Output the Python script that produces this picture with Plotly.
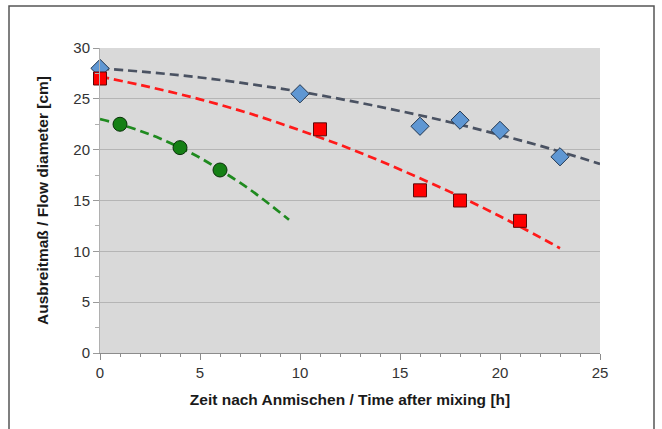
import plotly.graph_objects as go

# Measured points
blue_x = [0, 10, 16, 18, 20, 23]
blue_y = [28.0, 25.5, 22.3, 22.9, 21.9, 19.3]
red_x = [0, 11, 16, 18, 21]
red_y = [27.0, 22.0, 16.0, 15.0, 13.0]
green_x = [1, 4, 6]
green_y = [22.5, 20.2, 18.0]

# Trend lines
blue_trend_x = [0, 2.5, 5, 7.5, 10, 12.5, 15, 17.5, 20, 22.5, 25]
blue_trend_y = [28.0, 27.6, 27.1, 26.45, 25.7, 24.8, 23.8, 22.7, 21.45, 20.1, 18.6]
red_trend_x = [0, 2.5, 5, 7.5, 10, 12.5, 15, 17.5, 20, 22.5, 23]
red_trend_y = [27.2, 26.15, 24.95, 23.55, 21.9, 20.1, 18.05, 15.85, 13.45, 10.85, 10.3]
green_trend_x = [0, 1, 2, 3, 4, 5, 6, 7, 8, 9.45]
green_trend_y = [23.0, 22.5, 21.85, 21.1, 20.2, 19.2, 18.0, 16.75, 15.35, 13.1]

x_ticks = [0, 5, 10, 15, 20, 25]
y_ticks = [0, 5, 10, 15, 20, 25, 30]

DASH = "9px,5px"

fig = go.Figure()
fig.add_trace(go.Scatter(x=blue_trend_x, y=blue_trend_y, mode="lines", line=dict(color="#4a5262", width=2.7, dash=DASH, shape="spline"), hoverinfo="skip"))
fig.add_trace(go.Scatter(x=red_trend_x, y=red_trend_y, mode="lines", line=dict(color="#ff1a1a", width=2.7, dash=DASH, shape="spline"), hoverinfo="skip"))
fig.add_trace(go.Scatter(x=green_trend_x, y=green_trend_y, mode="lines", line=dict(color="#1f8a1f", width=2.7, dash=DASH, shape="spline"), hoverinfo="skip"))
fig.add_trace(go.Scatter(x=blue_x, y=blue_y, mode="markers", cliponaxis=False, marker=dict(symbol="diamond", size=14, color="#5f97d3", line=dict(color="#22364f", width=1))))
fig.add_trace(go.Scatter(x=red_x, y=red_y, mode="markers", cliponaxis=False, marker=dict(symbol="square", size=13, color="#ff0000", line=dict(color="#5a0a0a", width=1))))
fig.add_trace(go.Scatter(x=green_x, y=green_y, mode="markers", cliponaxis=False, marker=dict(symbol="circle", size=14, color="#158015", line=dict(color="#0a300a", width=1))))

fig.update_layout(
    width=662, height=429,
    margin=dict(l=100, r=62, t=48, b=76),
    paper_bgcolor="white", plot_bgcolor="#d9d9d9",
    showlegend=False,
    font=dict(family="Liberation Sans, Arial, sans-serif", color="#333333", size=15),
    xaxis=dict(range=[0, 25], tickvals=x_ticks, showgrid=False, zeroline=False,
               showline=True, linecolor="#8c8c8c", linewidth=1,
               ticks="outside", ticklen=6, tickcolor="#8c8c8c",
               minor=dict(dtick=1, ticks="outside", ticklen=3, tickcolor="#8c8c8c"),
               title=dict(text="<b>Zeit nach Anmischen / Time after mixing [h]</b>", font=dict(size=15.5, color="#1a1a1a"), standoff=14)),
    yaxis=dict(range=[0, 30], tickvals=y_ticks, showgrid=True, gridcolor="#b5b5b5", gridwidth=1,
               zeroline=False, showline=True, linecolor="#b0b0b0", linewidth=1,
               ticks="outside", ticklen=6, tickcolor="#9a9a9a",
               minor=dict(tickvals=[2.5, 7.5, 12.5, 17.5, 22.5, 27.5], ticks="outside", ticklen=4, tickcolor="#b0b0b0", showgrid=False),
               title=dict(text="<b>Ausbreitmaß / Flow diameter [cm]</b>", font=dict(size=15.5, color="#1a1a1a"), standoff=20)),
    shapes=[dict(type="rect", xref="paper", yref="paper", x0=-0.182, x1=1.108, y0=-0.5, y1=1.1377,
                 line=dict(color="#555555", width=1.5), fillcolor="rgba(0,0,0,0)", layer="below")],
)

fig.write_html("out.html", config={"displayModeBar": False},
               post_script="document.body.style.margin='0';document.body.style.overflow='hidden';")
